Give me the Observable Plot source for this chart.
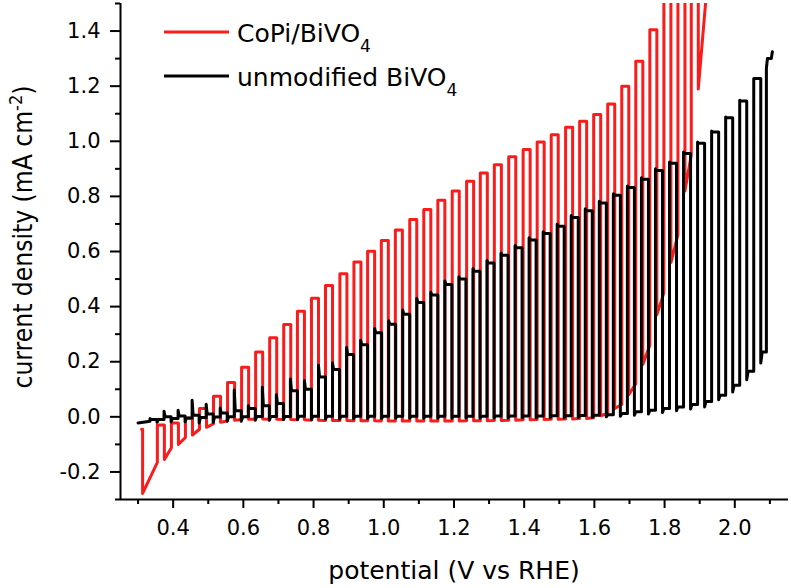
<!DOCTYPE html>
<html>
<head>
<meta charset="utf-8">
<script src="https://cdn.jsdelivr.net/npm/d3@7"></script>
<script src="https://cdn.jsdelivr.net/npm/@observablehq/plot@0.6"></script>
<style>
  html, body { margin: 0; padding: 0; background: #fff; }
  #chart { width: 791px; height: 588px; }
</style>
</head>
<body>
<div id="chart"></div>
<script>
// ---- axis ticks ----
const xMajor = [0.4, 0.6, 0.8, 1.0, 1.2, 1.4, 1.6, 1.8, 2.0];
const xMinor = [0.3, 0.5, 0.7, 0.9, 1.1, 1.3, 1.5, 1.7, 1.9, 2.1];
const yMajor = [-0.2, 0.0, 0.2, 0.4, 0.6, 0.8, 1.0, 1.2, 1.4];
const yMinor = [-0.3, -0.1, 0.1, 0.3, 0.5, 0.7, 0.9, 1.1, 1.3, 1.5];

// ---- legend / series names ----
const seriesMain = ["CoPi/BiVO", "unmodified BiVO"];
const seriesSub = ["4", "4"];
const xTitle = "potential (V vs RHE)";
const yTitleMain = "current density (mA cm";
const yTitleSup = "-2";

// ---- CoPi/BiVO4 (red): chopped-light scan ----
const redOn    = [0.310, 0.355, 0.395, 0.435, 0.475, 0.515, 0.555, 0.595, 0.635, 0.675,
                  0.715, 0.754, 0.794, 0.834, 0.875, 0.915, 0.954, 0.993, 1.033, 1.074,
                  1.114, 1.154, 1.195, 1.236, 1.275, 1.315, 1.356, 1.397, 1.437, 1.477,
                  1.518, 1.558, 1.598, 1.638, 1.678, 1.718, 1.758, 1.798, 1.838, 1.876];
const redOff   = [0.313, 0.375, 0.415, 0.455, 0.495, 0.535, 0.575, 0.615, 0.655, 0.695,
                  0.735, 0.774, 0.814, 0.854, 0.895, 0.935, 0.974, 1.013, 1.053, 1.094,
                  1.134, 1.174, 1.215, 1.256, 1.295, 1.335, 1.376, 1.417, 1.457, 1.497,
                  1.538, 1.578, 1.618, 1.658, 1.698, 1.738, 1.778, 1.818, 1.858, 1.896];
const redLight = [-0.045, -0.030, -0.022, -0.005, 0.030, 0.075, 0.125, 0.180, 0.235, 0.287,
                  0.335, 0.383, 0.430, 0.477, 0.519, 0.562, 0.601, 0.640, 0.678, 0.716,
                  0.752, 0.786, 0.820, 0.855, 0.885, 0.915, 0.944, 0.970, 0.997, 1.024,
                  1.051, 1.073, 1.097, 1.135, 1.200, 1.290, 1.405, 1.650, 1.800, 1.950];
const redDip   = [-0.278, -0.155, -0.100, -0.066, -0.038, -0.020, -0.012, -0.009, -0.008, -0.009,
                  -0.010, -0.011, -0.012, -0.013, -0.013, -0.014, -0.014, -0.015, -0.015, -0.015,
                  -0.015, -0.015, -0.015, -0.014, -0.014, -0.013, -0.012, -0.011, -0.010, -0.009,
                  -0.008, -0.006, 0.004, 0.030, 0.080, 0.190, 0.370, 0.560, 0.820, 1.190];
const redDark  = [-0.045, -0.165, -0.112, -0.075, -0.045, -0.025, -0.014, -0.010, -0.009, -0.009,
                  -0.010, -0.011, -0.012, -0.013, -0.013, -0.014, -0.014, -0.015, -0.015, -0.015,
                  -0.015, -0.015, -0.015, -0.014, -0.014, -0.013, -0.012, -0.011, -0.010, -0.009,
                  -0.008, -0.006, -0.003, 0.012, 0.045, 0.120, 0.260, 0.450, 0.660, 0.950];
const redEnd   = [1.920, 1.550];

// ---- unmodified BiVO4 (black): chopped-light scan ----
const blkStart = [0.300, -0.022];
const blkOn    = [0.334, 0.374, 0.414, 0.454, 0.494, 0.534, 0.574, 0.614, 0.654, 0.694,
                  0.734, 0.774, 0.814, 0.854, 0.894, 0.934, 0.974, 1.014, 1.054, 1.094,
                  1.134, 1.174, 1.214, 1.254, 1.294, 1.334, 1.374, 1.414, 1.454, 1.494,
                  1.534, 1.574, 1.614, 1.654, 1.694, 1.734, 1.774, 1.814, 1.854, 1.894,
                  1.934, 1.974, 2.014, 2.054, 2.090];
const blkOff   = [0.354, 0.394, 0.434, 0.474, 0.514, 0.554, 0.594, 0.634, 0.674, 0.714,
                  0.754, 0.794, 0.834, 0.874, 0.914, 0.954, 0.994, 1.034, 1.074, 1.114,
                  1.154, 1.194, 1.234, 1.274, 1.314, 1.354, 1.394, 1.434, 1.474, 1.514,
                  1.554, 1.594, 1.634, 1.674, 1.714, 1.754, 1.794, 1.834, 1.874, 1.914,
                  1.954, 1.994, 2.034, 2.074, 2.104];
const blkSpike = [-0.006, 0.020, 0.024, 0.060, 0.046, 0.032, 0.097, 0.040, 0.107, 0.080,
                  0.137, 0.131, 0.187, 0.195, 0.252, 0.278, 0.321, 0.349, 0.388, 0.430,
                  0.452, 0.493, 0.508, 0.537, 0.567, 0.594, 0.622, 0.650, 0.672, 0.700,
                  0.731, 0.755, 0.782, 0.810, 0.838, 0.868, 0.900, 0.925, 0.961, 0.997,
                  1.037, 1.088, 1.149, 1.228, 1.265];
const blkLight = [-0.010, 0.000, 0.003, 0.006, 0.010, 0.014, 0.022, 0.030, 0.040, 0.048,
                  0.095, 0.100, 0.145, 0.172, 0.226, 0.262, 0.305, 0.336, 0.372, 0.415,
                  0.442, 0.480, 0.500, 0.528, 0.558, 0.586, 0.614, 0.642, 0.665, 0.692,
                  0.723, 0.748, 0.776, 0.804, 0.832, 0.862, 0.894, 0.920, 0.956, 0.993,
                  1.034, 1.085, 1.146, 1.228, 1.300];
const blkDip   = [-0.020, -0.018, -0.018, -0.022, -0.020, -0.016, -0.016, -0.012, -0.012, -0.010,
                  -0.010, -0.010, -0.008, -0.008, -0.007, -0.006, -0.006, -0.005, -0.005, -0.005,
                  -0.005, -0.005, -0.004, -0.004, -0.004, -0.004, -0.003, -0.003, -0.003, -0.003,
                  -0.002, -0.002, 0.000, 0.002, 0.006, 0.010, 0.016, 0.022, 0.028, 0.036,
                  0.062, 0.090, 0.135, 0.195, null];
const blkDark  = [-0.016, -0.010, -0.006, -0.004, -0.002, -0.001, 0.000, 0.000, 0.001, 0.001,
                  0.001, 0.002, 0.002, 0.002, 0.002, 0.002, 0.002, 0.002, 0.002, 0.002,
                  0.002, 0.002, 0.002, 0.002, 0.002, 0.003, 0.003, 0.003, 0.003, 0.004,
                  0.004, 0.005, 0.006, 0.008, 0.012, 0.018, 0.024, 0.030, 0.036, 0.045,
                  0.056, 0.078, 0.115, 0.165, 0.235];
const blkEnd   = [2.107, 1.325];

const RED = "#f81c1c";
const BLACK = "#000000";

// Turn the per-pulse readings into the square-wave trace.
function chopPoints({start, on, off, spike, light, dip, dark, end, settle}) {
  const pts = [];
  if (start) pts.push({V: start[0], J: start[1]});
  for (let i = 0; i < on.length; i++) {
    pts.push({V: on[i], J: dark[i]});
    pts.push({V: on[i], J: spike[i]});
    if (spike[i] !== light[i]) pts.push({V: on[i] + 0.003, J: light[i]});
    pts.push({V: off[i], J: light[i]});
    if (dip[i] != null) {
      pts.push({V: off[i], J: dip[i]});
      if (settle && i + 1 < on.length) pts.push({V: off[i] + 0.004, J: dark[i + 1]});
    }
  }
  if (end) pts.push({V: end[0], J: end[1]});
  return pts;
}

const redPts = chopPoints({on: redOn, off: redOff, spike: redLight, light: redLight,
                           dip: redDip, dark: redDark, end: redEnd, settle: false});
const blkPts = chopPoints({start: blkStart, on: blkOn, off: blkOff, spike: blkSpike, light: blkLight,
                           dip: blkDip, dark: blkDark, end: blkEnd, settle: true});

const FONT = "DejaVu Sans";

// legend and axis titles (pixel layout relative to the frame)
function decorations(index, scales, values, dims) {
  const g = d3.create("svg:g").attr("font-family", FONT).attr("fill", "black")
    .attr("text-anchor", "start");
  const colors = [RED, BLACK];
  const x0 = dims.marginLeft + 44, x1 = dims.marginLeft + 109, tx = dims.marginLeft + 117;
  seriesMain.forEach((name, i) => {
    const y = dims.marginTop + 29 + i * 44;
    g.append("line").attr("x1", x0).attr("x2", x1).attr("y1", y).attr("y2", y)
      .attr("stroke", colors[i]).attr("stroke-width", 3);
    const t = g.append("text").attr("x", tx).attr("y", y + 9.5).attr("font-size", 25)
      .attr("text-anchor", "start");
    t.append("tspan").text(name);
    t.append("tspan").attr("font-size", 17).attr("dy", 10).text(seriesSub[i]);
  });
  const cx = (dims.marginLeft + dims.width - dims.marginRight) / 2;
  g.append("text").attr("x", cx).attr("y", dims.height - 9)
    .attr("text-anchor", "middle").attr("font-size", 25).text(xTitle);
  const yt = g.append("text").attr("transform", `translate(32,237) rotate(-90) scale(1,1.25)`)
    .attr("text-anchor", "middle").attr("font-size", 21)
    .attr("textLength", 303).attr("lengthAdjust", "spacingAndGlyphs");
  yt.append("tspan").text(yTitleMain);
  yt.append("tspan").attr("font-size", 14.5).attr("dy", -8).text(yTitleSup);
  yt.append("tspan").attr("dy", 8).text(")");
  return g.node();
}

const chart = Plot.plot({
  width: 791,
  height: 588,
  marginLeft: 120,
  marginRight: 3,
  marginTop: 3,
  marginBottom: 89,
  style: {fontFamily: FONT, background: "white", color: "black", overflow: "visible"},
  x: {domain: [0.25, 2.153]},
  y: {domain: [-0.3, 1.5]},
  marks: [
    Plot.line(redPts, {x: "V", y: "J", stroke: RED, strokeWidth: 3, clip: true}),
    Plot.line(blkPts, {x: "V", y: "J", stroke: BLACK, strokeWidth: 3, clip: true}),
    Plot.ruleX([0.25], {strokeWidth: 2}),
    Plot.ruleY([-0.3], {strokeWidth: 2}),
    Plot.axisX(xMajor, {tickSize: 9, tickPadding: 12, fontSize: 21, strokeWidth: 2,
                        tickFormat: d => d.toFixed(1), label: null}),
    Plot.axisX(xMinor, {tickSize: 5, strokeWidth: 2, fill: "none", tickFormat: () => "", label: null}),
    Plot.axisY(yMajor, {tickSize: 10, tickPadding: 10, fontSize: 21, strokeWidth: 2,
                        tickFormat: d => d.toFixed(1), label: null}),
    Plot.axisY(yMinor, {tickSize: 5, strokeWidth: 2, fill: "none", tickFormat: () => "", label: null}),
    decorations
  ]
});
document.getElementById("chart").appendChild(chart);
</script>
</body>
</html>
